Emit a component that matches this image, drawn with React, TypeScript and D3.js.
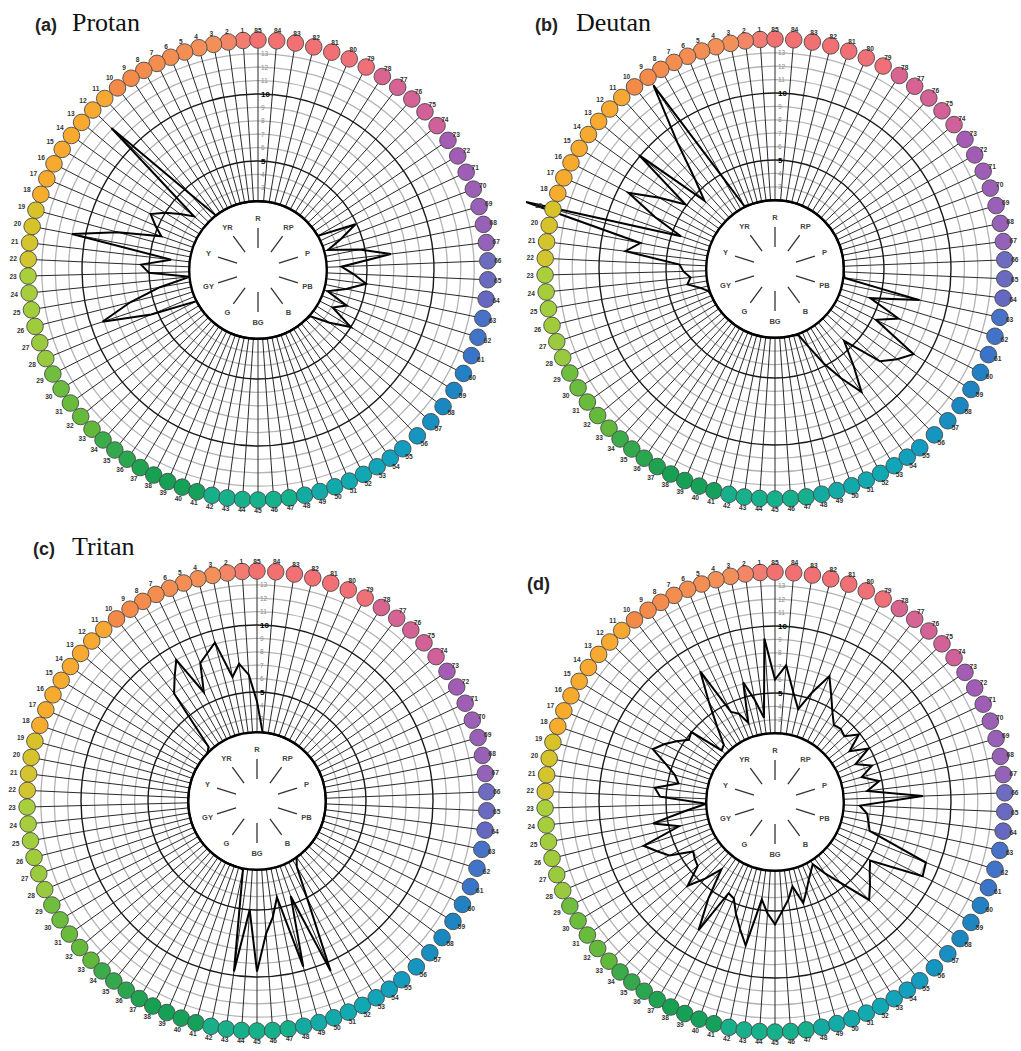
import React from 'react';
import * as d3 from 'd3';

// FM-100 hue test error score plots, caps 1..85
const capNumbers = d3.range(1, 86);
const hueLabels = ['R', 'YR', 'Y', 'GY', 'G', 'BG', 'B', 'PB', 'P', 'RP'];
const axisTicks = [3, 4, 5, 6, 7, 8, 9, 10, 11, 12, 13];
const boldTicks = [5, 10];

// scores for caps 1..85
const protanScores = [
  2, 2, 2, 2, 2, 2, 2, 2, 2, 2,
  4.5, 12.1, 3.1, 4.0, 5.0, 5.9, 5.2, 4.5, 7.7, 11.0,
  3.4, 5.6, 5.0, 2.0, 4.3, 6.7, 9.1, 5.5, 2, 2,
  2, 2, 2, 2, 2, 2, 2, 2, 2, 2,
  2, 2, 2, 2, 2, 2, 2, 2, 2, 2,
  2, 2, 2, 2, 2, 2, 2.1, 3.5, 5.0, 3.1,
  4.0, 2.3, 3.6, 5.0, 4.0, 3.1, 6.85, 4.6, 2.3, 3.5,
  4.9, 2, 2, 2, 2, 2, 2, 2, 2, 2,
  2, 2, 2, 2, 2,
];

const deutanScores = [
  2, 2, 2, 2, 2, 2, 2.1, 4.8, 13.3, 8.8,
  5.8, 4.2, 10.1, 5.1, 7.0, 9.2, 6.6, 4.3, 16.1, 7.1,
  8.1, 4.0, 3.7, 3.2, 3.5, 2.6, 2.1, 2, 2, 2,
  2, 2, 2, 2, 2, 2, 2, 2, 2, 2,
  2, 2, 2, 2, 2, 2, 2, 2, 2, 2.1,
  3.2, 4.8, 6.4, 8.1, 6.2, 4.3, 7.3, 8.2, 9.0, 5.3,
  6.8, 4.3, 7.9, 2.1, 2, 2, 2, 2, 2, 2,
  2, 2, 2, 2, 2, 2, 2, 2, 2, 2,
  2, 2, 2, 2, 2,
];

const tritanScores = [
  6.3, 7.2, 6.3, 9.1, 8.5, 8.0, 5.9, 9.0, 8.0, 7.0,
  2.3, 2, 2, 2, 2, 2, 2, 2, 2, 2,
  2, 2, 2, 2, 2, 2, 2, 2, 2, 2,
  2, 2, 2, 2, 2, 2, 2, 2, 2, 2,
  2, 2.1, 9.7, 5.0, 9.6, 6.8, 5.6, 4.2, 9.7, 4.4,
  10.7, 5.0, 2.6, 2, 2, 2, 2, 2, 2, 2,
  2, 2, 2, 2, 2, 2, 2, 2, 2, 2,
  2, 2, 2, 2, 2, 2, 2, 2, 2, 2,
  2, 2, 2, 2, 4.3,
];

const panelDScores = [
  9.1, 3.2, 4.6, 6.1, 3.1, 4.0, 4.35, 8.1, 5.8, 3.9,
  2.6, 2.4, 5.0, 4.8, 5.5, 6.2, 6.8, 5.5, 4.6, 4.2,
  5.9, 5.45, 2.0, 3.6, 6.1, 4.25, 7.2, 6.4, 5.7, 4.0,
  4.2, 4.35, 5.9, 4.6, 3.3, 5.6, 8.0, 4.5, 4.7, 5.7,
  6.7, 7.8, 4.2, 5.2, 6.0, 5.0, 4.2, 3.3, 4.7, 3.9,
  3.2, 2.7, 2.3, 3.4, 4.6, 7.0, 6.3, 5.65, 5.2, 9.2,
  9.0, 4.25, 4.0, 3.8, 3.2, 7.9, 3.8, 4.8, 3.6, 4.6,
  3.5, 4.9, 3.6, 4.9, 4.0, 4.2, 4.1, 4.8, 5.8, 7.1,
  5.5, 4.0, 5.2, 7.1, 6.0,
];

// cap colour stops (cap number -> colour)
const colorStopCaps = [1, 3, 10, 11, 18, 19, 22, 23, 28, 29, 33, 34, 38, 41, 42, 47, 48, 52, 55, 58, 60, 61, 63, 64, 66, 67, 73, 74, 78, 79, 85];
const colorStopValues = [
  '#f27b72', '#f3905a', '#f48a48', '#f7a832', '#f6ac2c', '#d8c22a', '#d2c530', '#a9cf3c', '#98c93e',
  '#6fbe3e', '#62b83a', '#3cab4a', '#17a052', '#15a15c', '#17b08a', '#15b08c', '#13aaa2', '#11a8b4',
  '#139cc0', '#1a88c0', '#2280c4', '#3a74c8', '#4872c8', '#6468c0', '#6e6cc0', '#9462b8', '#a45cb4',
  '#d0609a', '#d86490', '#f07078', '#f27070',
];

// angular layout of the printed score sheet (cap -> degrees anticlockwise from top)
const layoutCaps = [0, 9, 23, 33, 45, 55, 65.5, 77, 85];
const layoutDegrees = [0, 33.5, 91.5, 133.8, 180, 219, 270, 322.6, 360];

const panels = [
  { key: 'a', cx: 258, cy: 270, scores: protanScores, tag: '(a)', name: 'Protan', tx: 35, ty: 31, nx: 72 },
  { key: 'b', cx: 775, cy: 269, scores: deutanScores, tag: '(b)', name: 'Deutan', tx: 535, ty: 31, nx: 576 },
  { key: 'c', cx: 257, cy: 801, scores: tritanScores, tag: '(c)', name: 'Tritan', tx: 33, ty: 555, nx: 72 },
  { key: 'd', cx: 775, cy: 802, scores: panelDScores, tag: '(d)', name: '', tx: 527, ty: 590, nx: 0 },
];

const capColor = d3.scaleLinear<string>().domain(colorStopCaps).range(colorStopValues).interpolate(d3.interpolateRgb);
const capAngle = d3.scaleLinear().domain(layoutCaps).range(layoutDegrees);
const radius = d3.scaleLinear().domain([0, 13]).range([42, 216.2]);
const RING_R = 230;

const toRad = (deg: number) => (deg * Math.PI) / 180;

function Panel({ p }: { p: typeof panels[number] }) {
  const { cx, cy, scores } = p;
  const pos = (deg: number, rr: number) => [cx - rr * Math.sin(toRad(deg)), cy - rr * Math.cos(toRad(deg))];
  const capDeg = (c: number) => capAngle(c % 85);
  // labels sit a bit tighter on the right-hand side, as on the sheet
  const labelR = (deg: number) => 240 + 5 * Math.max(0, Math.sin(toRad(deg)));

  const line = d3.lineRadial<number>()
    .angle((d, i) => -toRad(capDeg(i + 1)))
    .radius(d => radius(d))
    .curve(d3.curveLinearClosed);

  return (
    <g>
      {/* light rings */}
      {axisTicks.filter(t => !boldTicks.includes(t)).map(t => (
        <circle key={'g' + t} cx={cx} cy={cy} r={radius(t)} fill="none" stroke="#b4b4b4" strokeWidth={1.3} />
      ))}
      {/* spokes */}
      {capNumbers.map(c => {
        const [x1, y1] = pos(capDeg(c), radius(2));
        const [x2, y2] = pos(capDeg(c), RING_R - 8);
        return <line key={'s' + c} x1={x1} y1={y1} x2={x2} y2={y2} stroke="#2a2a2a" strokeWidth={1} />;
      })}
      {boldTicks.map(t => (
        <circle key={'b' + t} cx={cx} cy={cy} r={radius(t)} fill="none" stroke="#1a1a1a" strokeWidth={1.4} />
      ))}
      <circle cx={cx} cy={cy} r={radius(2)} fill="#fff" stroke="#000" strokeWidth={2.4} />
      {/* hue sectors */}
      {hueLabels.map((h, i) => {
        const deg = i * 36;
        const [x1, y1] = pos(deg, 22);
        const [x2, y2] = pos(deg, 42);
        const [lx, ly] = pos(deg, 52);
        return (
          <g key={h}>
            <line x1={x1} y1={y1} x2={x2} y2={y2} stroke="#333" strokeWidth={1.3} />
            <text x={lx} y={ly} fontSize={7.5} fontWeight="bold" fill="#444" textAnchor="middle"
              dominantBaseline="central" fontFamily="Liberation Sans, Arial, sans-serif">{h}</text>
          </g>
        );
      })}
      {/* axis labels */}
      {axisTicks.map(t => {
        const bold = boldTicks.includes(t);
        return (
          <text key={'t' + t} x={cx + 3} y={cy - radius(t) + 2.5} fontSize={bold ? 8 : 6.5}
            fontWeight={bold ? 'bold' : 'normal'} fill={bold ? '#000' : '#8a8a8a'}
            fontFamily="Liberation Sans, Arial, sans-serif">{t}</text>
        );
      })}
      {/* score polygon */}
      <path d={line(scores) || ''} transform={`translate(${cx},${cy})`} fill="none" stroke="#000"
        strokeWidth={2} strokeLinejoin="miter" />
      {/* caps */}
      {capNumbers.map(c => {
        const deg = capDeg(c);
        const [x, y] = pos(deg, RING_R);
        const [lx, ly] = pos(deg, labelR(deg));
        return (
          <g key={'c' + c}>
            <circle cx={x} cy={y} r={8.3} fill={capColor(c)} stroke="#4a4a4a" strokeWidth={0.9} />
            <text x={lx} y={ly} fontSize={6.6} fontWeight="bold" fill="#333" textAnchor="middle"
              dominantBaseline="central" fontFamily="Liberation Sans, Arial, sans-serif">{c}</text>
          </g>
        );
      })}
      <text x={p.tx} y={p.ty} fontSize={18} fontWeight="bold" fill="#222"
        fontFamily="Liberation Sans, Arial, sans-serif">{p.tag}</text>
      {p.name && (
        <text x={p.nx} y={p.ty} fontSize={26} fill="#111" fontFamily="Liberation Serif, Times New Roman, serif">{p.name}</text>
      )}
    </g>
  );
}

export default function App() {
  return (
    <div style={{ position: 'absolute', left: 0, top: 0 }}>
      <svg width={1021} height={1051} viewBox="0 0 1021 1051" style={{ display: 'block', background: '#fff' }}>
        {panels.map(p => <Panel key={p.key} p={p} />)}
      </svg>
    </div>
  );
}
